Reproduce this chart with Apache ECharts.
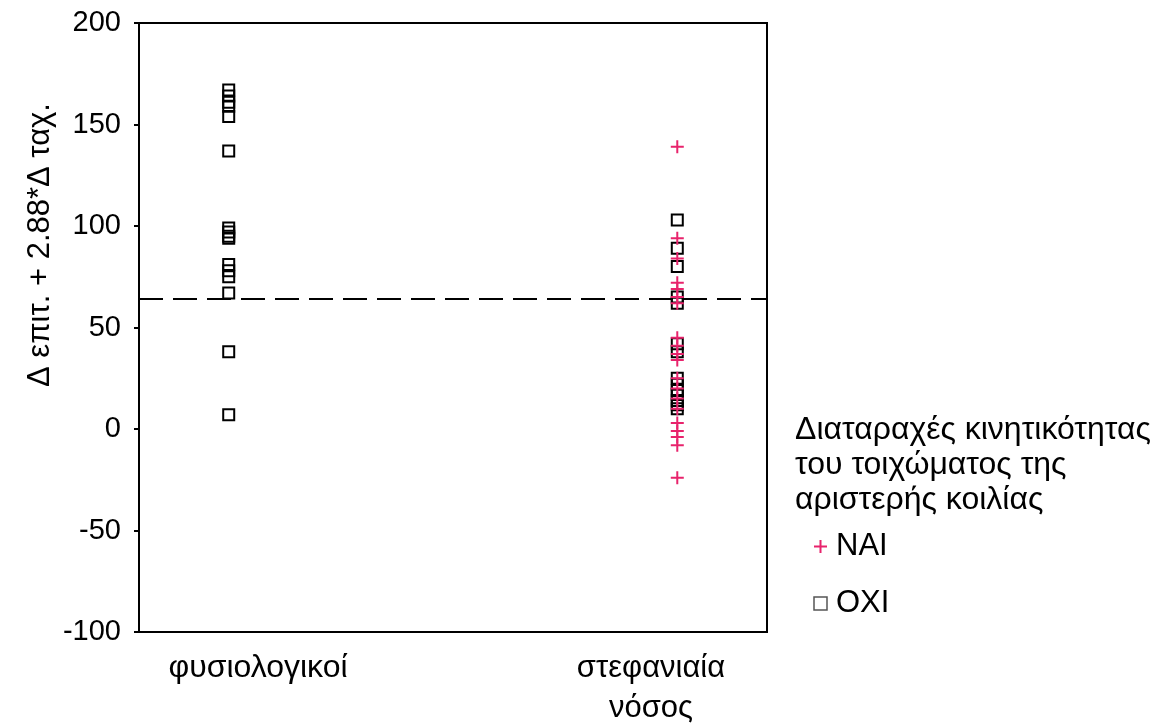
<!DOCTYPE html>
<html>
<head>
<meta charset="utf-8">
<script src="https://cdn.jsdelivr.net/npm/echarts@6/dist/echarts.min.js"></script>
<style>
  html, body { margin: 0; padding: 0; background: #fff; }
  #chart { width: 1169px; height: 727px; }
</style>
</head>
<body>
<div id="chart"></div>
<script>
// Group positions on the horizontal value axis
const groupPos = { normal: 1, coronary: 6 };
const groupLabels = ['φυσιολογικοί', 'στεφανιαία\nνόσος'];

// Values: Δ επιτ. + 2.88*Δ ταχ.
const normalNo = [167, 164, 161, 159, 154, 137, 99, 97, 95, 94, 81, 78, 75, 67, 38, 7];
const coronaryYes = [139, 94, 84, 72, 69, 65, 62, 45, 41, 37, 34, 25, 20, 15, 10, 3, -1, -4, -8, -24];
const coronaryNo = [103, 89, 80, 65, 62, 42, 38, 25, 22, 19, 17, 14, 12, 10];

const cutoff = 64;
const yTicks = { min: -100, max: 200, interval: 50 };

const pink = '#e8236c';
const plusPath = 'path://M0,-10 L0,10 M-10,0 L10,0';

const chart = echarts.init(document.getElementById('chart'));
const font = 'Liberation Sans, Arial, Helvetica, sans-serif';
const textFont = '31px ' + font;

const noData = normalNo.map(v => [groupPos.normal, v])
  .concat(coronaryNo.map(v => [groupPos.coronary, v]));
const yesData = coronaryYes.map(v => [groupPos.coronary, v]);

chart.setOption({
  animation: false,
  backgroundColor: '#fff',
  grid: {
    left: 139, right: 402, top: 23, bottom: 95,
    show: true, borderColor: '#000', borderWidth: 2, backgroundColor: 'transparent'
  },
  xAxis: {
    type: 'value', min: 0, max: 7,
    axisLine: { show: true, onZero: false, lineStyle: { color: '#000', width: 2 } },
    axisTick: { show: false }, axisLabel: { show: false }, splitLine: { show: false }
  },
  yAxis: {
    type: 'value', min: yTicks.min, max: yTicks.max, interval: yTicks.interval,
    axisLine: { show: true, onZero: false, lineStyle: { color: '#000', width: 2 } },
    axisTick: { show: true, length: 5, lineStyle: { color: '#000', width: 2 } },
    axisLabel: { fontSize: 29, color: '#000', fontFamily: font, margin: 18 },
    splitLine: { show: false }
  },
  legend: {
    orient: 'vertical', left: 808, top: 526, itemGap: 26,
    itemWidth: 13, itemHeight: 13,
    textStyle: { fontSize: 31, color: '#000', fontFamily: font, padding: [8, 0, 0, 4] },
    data: [
      { name: 'NAI', icon: plusPath, itemStyle: { color: 'transparent', borderColor: pink, borderWidth: 2 } },
      { name: 'OXI', icon: 'rect', itemStyle: { color: 'transparent', borderColor: '#555', borderWidth: 1.5 } }
    ]
  },
  series: [
    {
      name: 'OXI', type: 'scatter', symbol: 'rect', symbolSize: 11,
      data: noData,
      itemStyle: { color: 'transparent', borderColor: '#000', borderWidth: 2, opacity: 1 },
      z: 3,
      markLine: {
        silent: true, symbol: 'none', label: { show: false },
        lineStyle: { color: '#000', width: 2, type: [24, 10] },
        data: [{ yAxis: cutoff }]
      }
    },
    {
      name: 'NAI', type: 'scatter', symbol: plusPath, symbolSize: 13,
      data: yesData,
      itemStyle: { color: 'transparent', borderColor: pink, borderWidth: 2, opacity: 1 },
      z: 4
    }
  ],
  graphic: [
    {
      type: 'text', x: 40, y: 245, rotation: Math.PI / 2,
      style: {
        text: 'Δ επιτ. + 2.88*Δ ταχ.', font: textFont, fill: '#000',
        align: 'center', verticalAlign: 'middle'
      }
    },
    {
      type: 'text', x: 795, y: 413,
      style: {
        text: 'Διαταραχές κινητικότητας\nτου τοιχώματος της\nαριστερής κοιλίας',
        font: '32px ' + font, fill: '#000', lineHeight: 35
      }
    },
    {
      type: 'text', x: 258, y: 668,
      style: { text: groupLabels[0], font: '32px ' + font, fill: '#000', align: 'center', verticalAlign: 'middle' }
    },
    {
      type: 'text', x: 651, y: 688,
      style: {
        text: groupLabels[1], font: textFont, fill: '#000',
        align: 'center', verticalAlign: 'middle', lineHeight: 40
      }
    }
  ]
});
</script>
</body>
</html>
